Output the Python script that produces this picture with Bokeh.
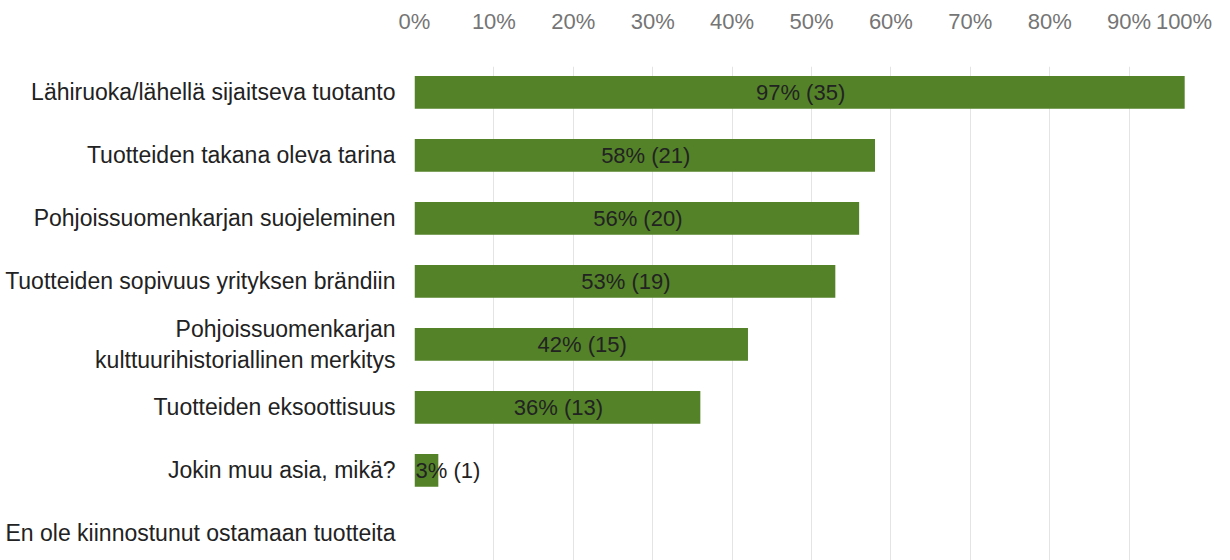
from bokeh.plotting import figure
from bokeh.models import ColumnDataSource, Range1d, FixedTicker
from bokeh.core.properties import value
from bokeh.embed import file_html
from bokeh.resources import INLINE

categories = [
    "Lähiruoka/lähellä sijaitseva tuotanto",
    "Tuotteiden takana oleva tarina",
    "Pohjoissuomenkarjan suojeleminen",
    "Tuotteiden sopivuus yrityksen brändiin",
    "Pohjoissuomenkarjan\nkulttuurihistoriallinen merkitys",
    "Tuotteiden eksoottisuus",
    "Jokin muu asia, mikä?",
    "En ole kiinnostunut ostamaan tuotteita",
]
percents = [97, 58, 56, 53, 42, 36, 3, 0]
counts = [35, 21, 20, 19, 15, 13, 1, 0]
x_ticks = [0, 10, 20, 30, 40, 50, 60, 70, 80, 90, 100]
x_tick_labels = ["0%", "10%", "20%", "30%", "40%", "50%", "60%", "70%", "80%", "90%", "100%"]

FONT = "Liberation Sans"
GREEN = "#538228"

rows = list(range(len(categories)))
labels = [f"{p}% ({c})" if c > 0 else "" for p, c in zip(percents, counts)]
label_x = [p / 2 if p >= 10 else 0 for p in percents]
label_align = ["center" if p >= 10 else "left" for p in percents]

src = ColumnDataSource(dict(y=rows, pct=percents, lab=labels, lx=label_x, al=label_align))

p = figure(
    width=1230, height=560,
    x_range=Range1d(0, 100),
    y_range=Range1d(7.43, -0.41),
    x_axis_location="above",
    output_backend="svg", toolbar_location=None,
    min_border_left=414, min_border_right=22, min_border_top=66, min_border_bottom=0,
)
p.outline_line_color = None
p.background_fill_color = "white"
p.border_fill_color = "white"

p.hbar(y="y", left=0, right="pct", height=0.52, source=src,
       fill_color=GREEN, line_color=None)

p.text(x="lx", y="y", text="lab", source=src, text_align="al",
       text_baseline="middle", text_font=value(FONT), text_font_size="22px",
       text_color="#222222", x_offset=1)

# x axis on top
xa = p.xaxis[0]
xa.ticker = FixedTicker(ticks=x_ticks)
overrides = {t: l for t, l in zip(x_ticks, x_tick_labels)}
overrides[100] = "100%" + "\u00a0" * 3
xa.major_label_overrides = overrides
xa.axis_line_color = None
xa.major_tick_line_color = None
xa.minor_tick_line_color = None
xa.major_label_text_font = FONT
xa.major_label_text_font_size = "22px"
xa.major_label_text_color = "#757575"
xa.major_label_standoff = 27

ya = p.yaxis[0]
ya.ticker = FixedTicker(ticks=rows)
ya.major_label_overrides = {i: c for i, c in zip(rows, categories)}
ya.axis_line_color = None
ya.major_tick_line_color = None
ya.minor_tick_line_color = None
ya.major_label_text_font = FONT
ya.major_label_text_font_size = "23px"
ya.major_label_text_color = "#222222"
ya.major_label_standoff = 13

p.xgrid.ticker = FixedTicker(ticks=x_ticks)
p.xgrid.grid_line_color = "#e4e4e4"
p.ygrid.grid_line_color = None

open("out.html", "w").write(file_html(p, INLINE))
